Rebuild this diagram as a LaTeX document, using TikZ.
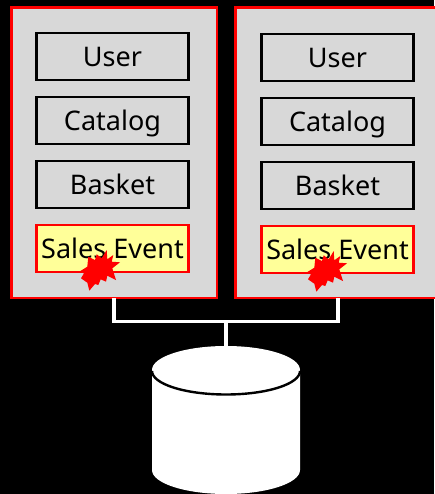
\documentclass[tikz,border=0pt]{standalone}
\usepackage{fontspec}
\setmainfont{Noto Sans}
\definecolor{panelgray}{HTML}{D8D8D8}
\definecolor{paleyellow}{HTML}{FFFF99}
\tikzset{
  x=1pt,y=-1pt,
  panel/.style={draw=red,fill=panelgray,line width=2.6pt,minimum width=205.6pt,minimum height=290.3pt,anchor=north west,inner sep=0pt,outer sep=0pt},
  part/.style={draw=black,line width=2.4pt,minimum width=152pt,minimum height=47pt,inner sep=0pt,outer sep=0pt,text height=19.5pt,text depth=0pt,font=\fontsize{27}{30}\selectfont},
  hot/.style={part,draw=red,fill=paleyellow},
  wire/.style={draw=white,line width=3.6pt},
  burst/.pic={\fill[red] (106.7,250)--(107.3,259.3)--(113.3,255)--(111.7,261.7)--(120,262.3)--(112.3,268.3)--(116,280)--(107.3,275.7)--(106,281.7)--(100.7,279.3)--(98.3,285)--(95,284)--(89.3,290.7)--(87.3,282.7)--(81,278.3)--(84,273.3)--(79.3,271.7)--(87.3,266.7)--(88.3,256.7)--(95,260)--(96.7,254.3)--(101.7,258.3)--cycle;},
}
\begin{document}
\begin{tikzpicture}
\useasboundingbox[fill=black] (0,0) rectangle (434,494);
\node[panel] (p1) at (11.3,7.7) {};
\node[panel] (p2) at (235.3,7.7) {};
\node[part] (u1) at (112.5,56.5) {User};
\node[part] (c1) at (112.5,120.5) {Catalog};
\node[part] (b1) at (112.5,184.5) {Basket};
\node[hot] (s1) at (112.5,248.5) {Sales Event};
\node[part] (u2) at (337.5,57.5) {User};
\node[part] (c2) at (337.5,121.5) {Catalog};
\node[part] (b2) at (337.5,185.5) {Basket};
\node[hot] (s2) at (337.5,249.5) {Sales Event};
\pic at (0,0) {burst};
\pic at (227,1) {burst};
\coordinate (j) at (226,321.3);
\coordinate (tap) at (226,347);
\draw[wire] (p1.south) -- (114.1,321.3) -- (338.1,321.3) -- (p2.south);
\draw[wire] (j) -- (tap);
\fill[white] (152,374) -- (152,470) arc[start angle=180,end angle=360,x radius=74,y radius=-24] -- (300,374) -- cycle;
\fill[white] (226,370) ellipse[x radius=74,y radius=24];
\draw[black,line width=2.4pt] (152,371) arc[start angle=180,end angle=360,x radius=74,y radius=-23.5];
\end{tikzpicture}
\end{document}
